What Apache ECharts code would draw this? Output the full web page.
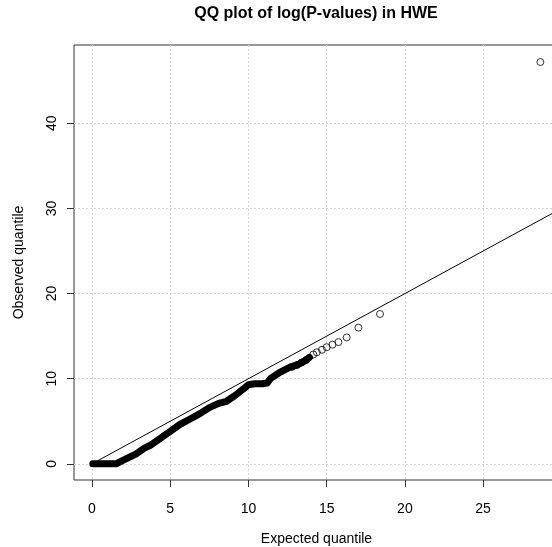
<!DOCTYPE html>
<html>
<head>
<meta charset="utf-8">
<title>QQ plot</title>
<script src="https://cdn.jsdelivr.net/npm/echarts@6/dist/echarts.min.js"></script>
<style>
  html, body { margin: 0; padding: 0; background: #fff; }
  #chart { width: 552px; height: 547px; }
</style>
</head>
<body>
<div id="chart"></div>
<script>
// tick labels
var xTicks = [0, 5, 10, 15, 20, 25];
var yTicks = [0, 10, 20, 30, 40];

// dense part of the QQ cloud (points overlap into a solid band)
var denseExpected = [0.05, 0.4, 0.8, 1.2, 1.55, 1.75, 2.2, 2.8, 3.35, 3.7, 4.3, 5.0, 5.6, 6.3, 6.9, 7.5, 8.1, 8.6, 9.2, 9.75, 10.0, 10.4, 10.9, 11.2, 11.4, 12.0, 12.6, 13.2, 13.6, 13.9];
var denseObserved = [0, 0, 0, 0, 0, 0.2, 0.6, 1.15, 1.85, 2.15, 2.9, 3.8, 4.6, 5.3, 5.9, 6.6, 7.1, 7.35, 8.1, 8.9, 9.3, 9.4, 9.4, 9.5, 10.0, 10.75, 11.3, 11.7, 12.1, 12.5];

// separate points in the tail
var tailExpected = [12.8, 13.1, 13.4, 13.7, 14.15, 14.37, 14.7, 15.0, 15.37, 15.75, 16.28, 17.03, 18.41, 28.66];
var tailObserved = [11.4, 11.6, 11.9, 12.2, 12.85, 13.1, 13.4, 13.7, 14.0, 14.3, 14.85, 16.0, 17.6, 47.2];

// y = x reference line
var refLine = [0, 30];

var font = 'Liberation Sans';
var chart = echarts.init(document.getElementById('chart'), null, { renderer: 'canvas' });

var option = {
  backgroundColor: '#fff',
  animation: false,
  textStyle: { fontFamily: font },
  graphic: [{
    type: 'text',
    x: 316,
    y: 14,
    style: {
      text: 'QQ plot of log(P-values) in HWE',
      fontFamily: font,
      fontWeight: 'bold',
      fontSize: 16,
      fill: '#000',
      align: 'center',
      verticalAlign: 'middle'
    }
  }],
  grid: {
    left: 74,
    top: 45,
    width: 485,
    height: 435,
    containLabel: false,
    outerBoundsMode: 'none',
    show: true,
    borderColor: '#333',
    borderWidth: 1,
    backgroundColor: 'transparent'
  },
  xAxis: {
    type: 'value',
    min: -1.15,
    max: 29.85,
    name: 'Expected quantile',
    nameLocation: 'middle',
    nameGap: 52,
    nameTextStyle: { fontFamily: font, fontSize: 14, color: '#000' },
    axisLine: { show: false, onZero: false },
    axisTick: { show: true, length: 7, customValues: xTicks, lineStyle: { color: '#333' } },
    axisLabel: { customValues: xTicks, margin: 22, fontFamily: font, fontSize: 14, color: '#000' },
    splitLine: { show: true, lineStyle: { color: '#d3d3d3', type: [2, 2], width: 1 } }
  },
  yAxis: {
    type: 'value',
    min: -1.9,
    max: 49.2,
    name: 'Observed quantile',
    nameLocation: 'middle',
    nameGap: 48,
    nameTextStyle: { fontFamily: font, fontSize: 14, color: '#000' },
    axisLine: { show: false, onZero: false },
    axisTick: { show: true, length: 7, customValues: yTicks, lineStyle: { color: '#333' } },
    axisLabel: { customValues: yTicks, rotate: 90, margin: 15, fontFamily: font, fontSize: 14, color: '#000' },
    splitLine: { show: true, lineStyle: { color: '#d3d3d3', type: [2, 2], width: 1 } }
  },
  series: [
    {
      type: 'line',
      data: refLine.map(function (v) { return [v, v]; }),
      showSymbol: false,
      lineStyle: { color: '#000', width: 1 },
      silent: true
    },
    {
      type: 'line',
      data: denseExpected.map(function (v, i) { return [v, denseObserved[i]]; }),
      showSymbol: false,
      lineStyle: { color: '#000', width: 7, cap: 'round', join: 'round' },
      silent: true
    },
    {
      type: 'scatter',
      data: tailExpected.map(function (v, i) { return [v, tailObserved[i]]; }),
      symbol: 'circle',
      symbolSize: 7,
      itemStyle: { color: 'transparent', borderColor: '#000', borderWidth: 1 },
      silent: true
    }
  ]
};

chart.setOption(option);
</script>
</body>
</html>
